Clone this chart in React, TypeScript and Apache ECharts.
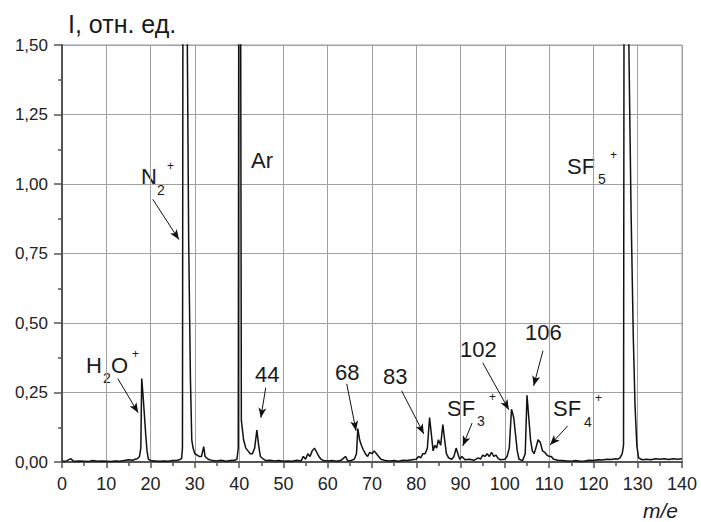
import React, { useEffect, useRef } from "react";
import * as echarts from "echarts";

// Spectrum: m/e values and intensities (rel. units). Values > 1.5 are off-scale peaks.
const mz: number[] = [
  0, 1, 2, 2.5, 3, 4, 5, 6, 7, 8, 9, 10, 11, 12, 13, 14, 15, 16, 16.5, 17, 17.5, 17.8, 18, 18.3, 18.6, 18.9, 19.2, 19.5,
  20, 21, 22, 23, 24, 25, 26, 26.5, 27, 27.2, 27.4, 28.0, 28.3, 28.6, 29.0, 29.3, 29.6, 30, 30.5, 31, 31.5, 32, 32.3, 33, 34, 35, 36, 37, 38, 39, 39.5, 39.8,
  40.0, 40.2, 40.5, 41, 41.5, 42, 42.5, 43, 43.5, 44, 44.4, 44.8, 45.5, 46, 47, 48, 49, 50, 51, 52, 53, 54, 54.5, 55, 55.5, 56, 56.5, 57, 57.5, 58, 58.5, 59,
  60, 61, 62, 63, 64, 64.5, 65, 66, 66.5, 66.8, 67.2, 67.6, 68, 68.5, 69, 69.5, 70, 70.5, 71, 71.5, 72, 73, 74, 75, 76, 77, 78, 79,
  80, 80.5, 81, 81.5, 82, 82.5, 83, 83.4, 83.8, 84.2, 84.6, 85, 85.5, 86, 86.4, 86.8, 87.3, 88, 88.5, 89, 89.4, 89.8, 90.3, 91, 92, 93, 94, 94.5, 95, 95.5, 96, 96.5, 97, 97.5, 98, 98.5, 99,
  100, 100.5, 101, 101.5, 102, 102.4, 102.8, 103.2, 104, 104.6, 105, 105.4, 105.8, 106.2, 106.6, 107, 107.5, 108, 108.5, 109, 109.5, 110, 110.5, 111, 112, 113, 114, 115, 116, 117, 118, 119,
  120, 121, 122, 123, 124, 125, 125.5, 126, 126.5, 126.8, 127.0, 127.3, 128.0, 128.5, 129.0, 129.4, 129.8, 130.2, 131, 132, 133, 134, 135, 136, 137, 138, 139, 140,
];
const intensity: number[] = [
  0.003, 0.004, 0.012, 0.004, 0.003, 0.004, 0.003, 0.002, 0.005, 0.003, 0.004, 0.003, 0.002, 0.004, 0.003, 0.005, 0.008, 0.006, 0.01, 0.012, 0.02, 0.05, 0.30, 0.24, 0.17, 0.10, 0.04, 0.01,
  0.005, 0.004, 0.003, 0.004, 0.003, 0.005, 0.006, 0.008, 0.012, 0.05, 3.0, 3.0, 1.5, 0.8, 0.3, 0.08, 0.05, 0.03, 0.025, 0.02, 0.02, 0.055, 0.02, 0.01, 0.005, 0.004, 0.006, 0.003, 0.005, 0.006, 0.01, 0.05,
  3.0, 3.0, 0.15, 0.08, 0.05, 0.04, 0.03, 0.03, 0.05, 0.115, 0.06, 0.02, 0.01, 0.005, 0.006, 0.004, 0.005, 0.003, 0.004, 0.003, 0.006, 0.004, 0.02, 0.01, 0.03, 0.02, 0.04, 0.05, 0.035, 0.02, 0.01, 0.005,
  0.004, 0.005, 0.003, 0.006, 0.02, 0.005, 0.004, 0.01, 0.03, 0.12, 0.08, 0.06, 0.045, 0.03, 0.02, 0.035, 0.03, 0.04, 0.03, 0.02, 0.01, 0.005, 0.004, 0.005, 0.003, 0.006, 0.005, 0.008,
  0.01, 0.02, 0.015, 0.03, 0.03, 0.05, 0.16, 0.10, 0.04, 0.06, 0.05, 0.08, 0.06, 0.135, 0.08, 0.03, 0.015, 0.01, 0.02, 0.05, 0.03, 0.01, 0.02, 0.008, 0.01, 0.006, 0.015, 0.01, 0.025, 0.02, 0.03, 0.02, 0.035, 0.02, 0.025, 0.012, 0.008,
  0.01, 0.02, 0.05, 0.19, 0.16, 0.10, 0.04, 0.01, 0.005, 0.03, 0.24, 0.16, 0.08, 0.04, 0.03, 0.05, 0.08, 0.07, 0.04, 0.035, 0.025, 0.02, 0.02, 0.01, 0.006, 0.005, 0.004, 0.003, 0.005, 0.003, 0.004, 0.006,
  0.005, 0.008, 0.007, 0.01, 0.009, 0.012, 0.01, 0.015, 0.03, 0.06, 3.0, 3.0, 1.5, 0.9, 0.45, 0.2, 0.06, 0.015, 0.008, 0.01, 0.008, 0.012, 0.01, 0.012, 0.009, 0.012, 0.01, 0.012,
];

const xTicks = { min: 0, max: 140, interval: 10 };
const yTicks = { min: 0, max: 1.5, interval: 0.25 };

// Arrows: [fromX, fromY] -> [toX, toY] in data coordinates
const arrowFrom: [number, number][] = [
  [12.6, 0.30], [20.5, 0.945], [46.0, 0.267], [64.3, 0.281], [76.7, 0.256], [92.6, 0.14], [95.0, 0.357], [108.6, 0.40], [114.2, 0.13],
];
const arrowTo: [number, number][] = [
  [17.2, 0.177], [26.4, 0.80], [44.9, 0.159], [66.4, 0.112], [81.7, 0.101], [90.5, 0.058], [100.9, 0.188], [106.5, 0.274], [110.2, 0.061],
];

type Piece = { t: string; x: number; y: number; s: number; italic?: boolean };
// Annotation texts (pixel placement)
const labels: Piece[] = [
  { t: "I, отн. ед.", x: 68, y: 24, s: 25 },
  { t: "m/e", x: 643, y: 510, s: 21, italic: true },
  { t: "H", x: 86, y: 365, s: 22 }, { t: "2", x: 103, y: 378, s: 14 }, { t: "O", x: 111, y: 365, s: 22 }, { t: "+", x: 132, y: 354, s: 12 },
  { t: "N", x: 141, y: 176, s: 22 }, { t: "2", x: 157, y: 190, s: 14 }, { t: "+", x: 167, y: 166, s: 12 },
  { t: "Ar", x: 251, y: 160, s: 22 },
  { t: "44", x: 255, y: 374, s: 22 },
  { t: "68", x: 335, y: 372, s: 22 },
  { t: "83", x: 383, y: 376, s: 22 },
  { t: "SF", x: 447, y: 408, s: 22 }, { t: "3", x: 477, y: 421, s: 14 }, { t: "+", x: 489, y: 397, s: 12 },
  { t: "102", x: 460, y: 349, s: 22 },
  { t: "106", x: 525, y: 332, s: 22 },
  { t: "SF", x: 553, y: 408, s: 22 }, { t: "4", x: 584, y: 422, s: 14 }, { t: "+", x: 595, y: 398, s: 12 },
  { t: "SF", x: 567, y: 166, s: 22 }, { t: "5", x: 598, y: 179, s: 14 }, { t: "+", x: 610, y: 155, s: 12 },
];

const FONT = "'Liberation Sans', Arial, Helvetica, sans-serif";

export default function App() {
  const ref = useRef<HTMLDivElement>(null);
  useEffect(() => {
    if (!ref.current) return;
    const chart = echarts.init(ref.current, undefined, { renderer: "svg" });
    const data = mz.map((x, i) => [x, intensity[i]]);
    chart.setOption({
      animation: false,
      backgroundColor: "#fff",
      grid: { left: 62, right: 19, top: 45, bottom: 60, show: true, borderColor: "#a0a0a0", borderWidth: 1 },
      xAxis: {
        type: "value",
        min: xTicks.min,
        max: xTicks.max,
        interval: xTicks.interval,
        axisLine: { show: true, onZero: false, lineStyle: { color: "#555", width: 2 } },
        axisTick: { show: true, length: 6, lineStyle: { color: "#555", width: 1.5 } },
        minorTick: { show: true, splitNumber: 2, length: 4, lineStyle: { color: "#555", width: 1.5 } },
        splitLine: { show: true, lineStyle: { color: "#a0a0a0", width: 1 } },
        axisLabel: { color: "#222", fontSize: 18, fontFamily: FONT, margin: 13 },
      },
      yAxis: {
        type: "value",
        min: yTicks.min,
        max: yTicks.max,
        interval: yTicks.interval,
        axisLine: { show: true, onZero: false, lineStyle: { color: "#555", width: 2 } },
        axisTick: { show: true, length: 8, lineStyle: { color: "#555", width: 1.5 } },
        minorTick: { show: true, splitNumber: 2, length: 4, lineStyle: { color: "#555", width: 1.5 } },
        splitLine: { show: true, lineStyle: { color: "#a0a0a0", width: 1 } },
        axisLabel: {
          color: "#222",
          fontSize: 17,
          fontFamily: FONT,
          margin: 14,
          formatter: (v: number) => v.toFixed(2).replace(".", ","),
        },
      },
      series: [
        {
          type: "line",
          data,
          showSymbol: false,
          clip: true,
          lineStyle: { color: "#111", width: 1.5 },
          markLine: {
            silent: true,
            symbol: ["none", "arrow"],
            symbolSize: [6, 10],
            label: { show: false },
            lineStyle: { color: "#111", width: 1, type: "solid" },
            data: arrowFrom.map((f, i) => [{ coord: f }, { coord: arrowTo[i] }]),
          },
        },
      ],
      graphic: labels.map((l) => ({
        type: "text",
        x: l.x,
        y: l.y,
        silent: true,
        style: {
          text: l.t,
          fill: "#1a1a1a",
          font: `${l.italic ? "italic " : ""}${l.s}px ${FONT}`,
          textAlign: "left",
          textVerticalAlign: "middle",
        },
      })),
    });
    return () => chart.dispose();
  }, []);
  return <div ref={ref} style={{ width: 701, height: 522, position: "absolute", left: 0, top: 0 }} />;
}
